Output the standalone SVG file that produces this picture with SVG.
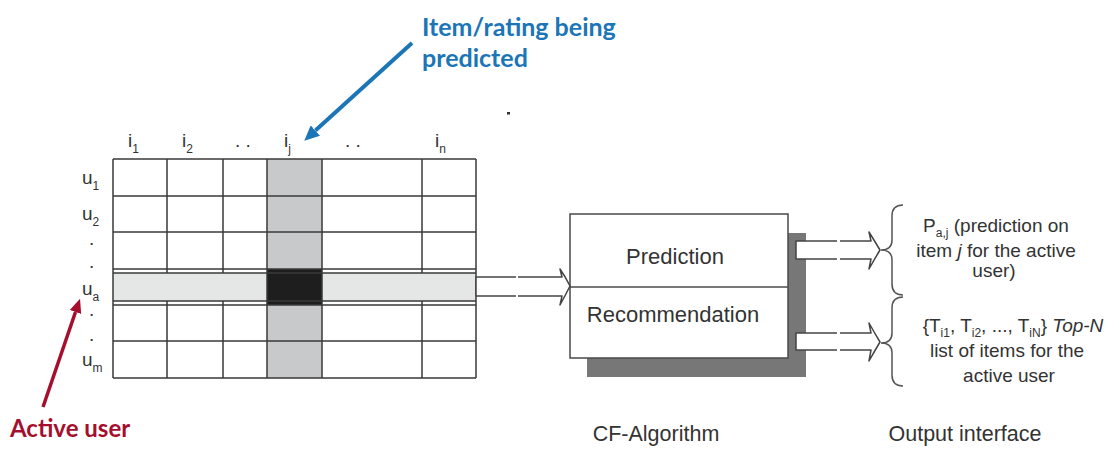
<svg xmlns="http://www.w3.org/2000/svg" width="1119" height="472" viewBox="0 0 1119 472">
<style>
.lbl{font-family:"Liberation Sans",Arial,sans-serif;fill:#333;}
.sub{font-size:12px;}
.grid{stroke:#3a3a3a;stroke-width:1.5;fill:none;}
.box{fill:#fff;stroke:#4a4a4a;stroke-width:1.5;}
.arr{fill:#fff;stroke:#444;stroke-width:1.5;stroke-linejoin:round;}
.brace{fill:none;stroke:#555;stroke-width:1.5;}
.ann{font-family:Lato,"Open Sans",sans-serif;font-weight:bold;font-size:25px;}
</style>
<defs>
<marker id="hb" markerUnits="userSpaceOnUse" markerWidth="15" markerHeight="14" refX="0" refY="7" orient="auto"><path d="M0,0 L15,7 L0,14 Z" fill="#1b75b6"/></marker>
<marker id="hr" markerUnits="userSpaceOnUse" markerWidth="14" markerHeight="12" refX="0" refY="6" orient="auto"><path d="M0,0 L14,6 L0,12 Z" fill="#a50f2d"/></marker>
</defs>
<rect width="1119" height="472" fill="#fff"/>

<g id="matrix">
<rect x="267" y="159" width="55" height="219" fill="#c7c9ca"/>
<rect x="113" y="273" width="363" height="28" fill="#e5e7e7"/>
<rect x="267" y="269" width="55" height="36" fill="#1e1e1e"/>
<path class="grid" d="M113,159 H476 M113,196 H476 M113,232 H476 M113,269 H476 M113,273 H476 M113,301 H476 M113,305 H476 M113,341 H476 M113,378 H476"/>
<path class="grid" d="M113,159 V378 M476,159 V378 M267,159 V378 M322,159 V378 M167,159 V273 M223,159 V273 M422,159 V273 M167,301 V378 M223,301 V378 M422,301 V378"/>
<g class="lbl" font-size="19">
<text x="128" y="147">i<tspan class="sub" dy="6">1</tspan></text>
<text x="182" y="147">i<tspan class="sub" dy="6">2</tspan></text>
<text x="284" y="147">i<tspan class="sub" dy="6">j</tspan></text>
<text x="435" y="147">i<tspan class="sub" dy="6">n</tspan></text>
<text x="235" y="147">. .</text>
<text x="345" y="147">. .</text>
<text x="82" y="184">u<tspan class="sub" dy="6">1</tspan></text>
<text x="82" y="220">u<tspan class="sub" dy="6">2</tspan></text>
<text x="82" y="295">u<tspan class="sub" dy="6">a</tspan></text>
<text x="82" y="366">u<tspan class="sub" dy="6">m</tspan></text>
<text x="89" y="245">.</text>
<text x="89" y="268">.</text>
<text x="89" y="316">.</text>
<text x="89" y="341">.</text>
</g>
</g>

<g id="cf-algorithm">
<rect x="587" y="233" width="219" height="144" fill="#777"/>
<rect class="box" x="570" y="214" width="218" height="144"/>
<line x1="570" y1="287" x2="788" y2="287" stroke="#4a4a4a" stroke-width="1.5"/>
<text class="lbl" x="675" y="264" font-size="22" text-anchor="middle">Prediction</text>
<text class="lbl" x="673" y="322" font-size="22" text-anchor="middle">Recommendation</text>
<text class="lbl" x="656" y="441" font-size="21.5" text-anchor="middle">CF-Algorithm</text>
</g>

<g id="output-interface">
<path class="brace" d="M903,205 Q892,205 892,216 L892,240 Q892,250 881,250 Q892,250 892,260 L892,284 Q892,295 903,295"/>
<path class="brace" d="M903,297 Q892,297 892,308 L892,333 Q892,343 881,343 Q892,343 892,353 L892,375 Q892,386 903,386"/>
<g class="lbl" font-size="19" text-anchor="middle">
<text x="996" y="232">P<tspan class="sub" dy="5">a,j</tspan><tspan dy="-5"> (prediction on</tspan></text>
<text x="996" y="257">item  <tspan font-style="italic">j</tspan> for the active</text>
<text x="994" y="277">user)</text>
<text x="1013" y="332">{T<tspan class="sub" dy="5">i1</tspan><tspan dy="-5">, T</tspan><tspan class="sub" dy="5">i2</tspan><tspan dy="-5">, ..., T</tspan><tspan class="sub" dy="5">iN</tspan><tspan dy="-5">} </tspan><tspan font-style="italic">Top-N</tspan></text>
<text x="1007" y="357">list of items for the</text>
<text x="1009" y="382">active user</text>
</g>
<text class="lbl" x="965" y="441" font-size="21.5" text-anchor="middle">Output interface</text>
</g>

<g id="annotation-item">
<text class="ann" fill="#1b75b6"><tspan x="422" y="36">Item/rating being</tspan><tspan x="422" y="67">predicted</tspan></text>
</g>
<g id="annotation-user">
<text class="ann" fill="#a50f2d" x="10" y="437" style="font-size:24px">Active user</text>
</g>
<rect x="507" y="112" width="3" height="2.5" fill="#333"/>

<g id="connectors">
<path class="arr" d="M476,277 H562 L560,269 Q565,276 570,286 Q565,296 560,305 L562,296 H476 Z"/>
<rect x="516" y="275" width="2" height="4" fill="#fff"/>
<rect x="516" y="294" width="2" height="4" fill="#fff"/>
<path class="arr" d="M796,241 H871 L869,232 Q874,240 880,250 Q874,260 869,269 L871,259 H796 Z"/>
<rect x="837" y="239" width="3" height="4" fill="#fff"/>
<rect x="837" y="257" width="3" height="4" fill="#fff"/>
<path class="arr" d="M796,333 H871 L869,323 Q874,332 880,342 Q874,352 869,361 L871,350 H796 Z"/>
<rect x="837" y="331" width="3" height="4" fill="#fff"/>
<rect x="837" y="348" width="3" height="4" fill="#fff"/>
<line x1="412" y1="43" x2="315.4" y2="130.6" stroke="#1b75b6" stroke-width="4" marker-end="url(#hb)"/>
<line x1="43" y1="407" x2="75.5" y2="312" stroke="#a50f2d" stroke-width="3.5" marker-end="url(#hr)"/>
</g>
</svg>
